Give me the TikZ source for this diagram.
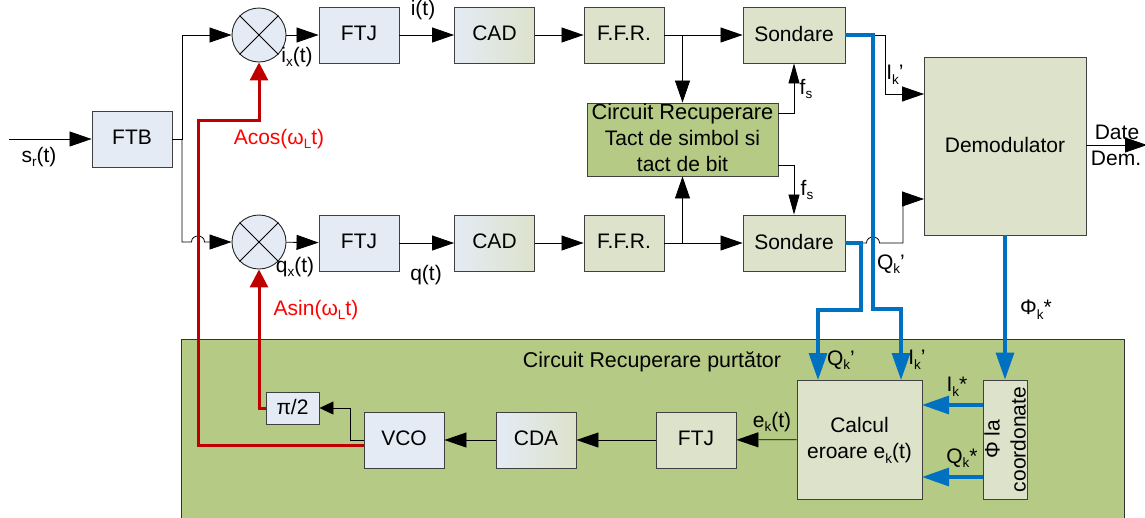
\documentclass[tikz,border=0pt]{standalone}
\usepackage{fontspec}
\setmainfont{Liberation Sans}
\usetikzlibrary{arrows.meta}
\definecolor{blkblue}{HTML}{E4EBF5}
\definecolor{blkgrey}{HTML}{DDE2CB}
\definecolor{blkgreen}{HTML}{B5CA85}
\definecolor{wireblue}{HTML}{0070C0}
\definecolor{wirered}{HTML}{C00000}
\newcommand{\lowtxt}[1]{\raisebox{-0.22em}{\fontsize{13.5}{14}\selectfont #1}}
\tikzset{
 blk/.style={draw=black!75,line width=0.9pt,inner sep=0pt,align=center,text depth=3pt,minimum width=80pt,minimum height=56pt},
 mixer/.style={draw=black!85,line width=0.9pt,fill=blkblue,circle,inner sep=0pt,minimum size=54pt},
 lbl/.style={inner sep=0pt,align=center},
 sig/.style={line width=0.8pt,-{Triangle[length=22pt,width=15pt]}},
 sigs/.style={line width=0.8pt,-{Triangle[length=20pt,width=11pt]}},
 bsig/.style={wireblue,line width=3.2pt,-{Triangle[length=27pt,width=18pt]}},
 rsig/.style={wirered,line width=3pt,-{Triangle[length=18pt,width=18pt]}},
}
\begin{document}
\begin{tikzpicture}[x=1pt,y=-1pt,font=\fontsize{21}{26}\selectfont]
 \clip (0,0) rectangle (1145,517);
 \fill[white] (0,0) rectangle (1145,517);
 \draw[line width=0.9pt,draw=black!80,fill=blkgreen] (181,339) rectangle (1124,530); %purtator
 \node[lbl] (tPurt) at (652,362) {\fontsize{21.4}{26}\selectfont Circuit Recuperare purtător};

 %calea de sus
 \node[blk,fill=blkblue] (FTB) at (132,139) {FTB};
 \node[mixer] (MxA) at (259,35) {};
 \node[blk,fill=blkblue] (FTJa) at (359,35) {FTJ};
 \node[blk,left color=blkblue,right color=blkgrey] (CADa) at (494.5,35) {CAD};
 \node[blk,fill=blkgrey] (FFRa) at (624,35) {F.F.R.};
 \node[blk,fill=blkgrey,minimum width=102pt] (SonA) at (794,35) {Sondare};
 %calea de jos
 \node[mixer] (MxB) at (259,242) {};
 \node[blk,fill=blkblue] (FTJb) at (359,243) {FTJ};
 \node[blk,left color=blkblue,right color=blkgrey] (CADb) at (494.5,243) {CAD};
 \node[blk,fill=blkgrey] (FFRb) at (624,243) {F.F.R.};
 \node[blk,fill=blkgrey,minimum width=102pt] (SonB) at (794,243) {Sondare};
 \node[blk,fill=blkgreen,minimum width=191pt,minimum height=73pt] (Tact) at (682.5,139.5)
   {\fontsize{21.8}{26}\selectfont Circuit Recuperare\\Tact de simbol si\\tact de bit};
 \node[blk,fill=blkgrey,minimum width=162pt,minimum height=178pt] (Dem) at (1005,146) {Demodulator};
 %bucla
 \node[blk,fill=blkgrey,minimum width=125pt,minimum height=119pt] (Calc) at (859.5,439.5)
   {Calcul\\eroare e\lowtxt{k}(t)};
 \node[blk,fill=blkgrey,minimum width=44pt,minimum height=119pt] (Phi) at (1005,439.5) {};
 \node[lbl,rotate=90] (tPhi) at (Phi) {Φ la\\coordonate};
 \node[blk,fill=blkgrey] (FTJc) at (696,440) {FTJ};
 \node[blk,left color=blkblue,right color=blkgrey] (CDA) at (536,440) {CDA};
 \node[blk,fill=blkblue] (VCO) at (404,440) {VCO};
 \node[blk,fill=blkblue,minimum width=53pt,minimum height=32pt] (Pi) at (292.5,408) {π/2};

 \foreach \m in {MxA,MxB}{
  \draw[line width=0.8pt] (\m.45)--(\m.225);
  \draw[line width=0.8pt] (\m.135)--(\m.-45);
 }

 \coordinate (in) at (9,139);
 \coordinate (sp) at (182,139);
 \coordinate (jmpA) at (191.5,242);
 \coordinate (jmpB) at (204.5,242);
 \coordinate (cU) at (778,113);
 \coordinate (cD) at (778,165);
 \coordinate (sI) at (873,35);
 \coordinate (sQ) at (861,243);
 \coordinate (jmpC) at (866.5,243);
 \coordinate (jmpD) at (879.5,243);
 \coordinate (dI) at (924,94);
 \coordinate (dQ) at (924,199);
 \coordinate (out) at (1147,145);

 \draw[sig] (in)--(FTB.west);
 \draw[sig] (FTB.east)--(sp) |- (MxA.west);
 \draw[sig] (sp)--(sp |- jmpA)--(jmpA) .. controls +(0,-8) and +(0,-8) .. (jmpB)--(MxB.west);
 \foreach \a/\b in {MxA/FTJa,FTJa/CADa,CADa/FFRa,FFRa/SonA,MxB/FTJb,FTJb/CADb,CADb/FFRb,FFRb/SonB,Calc/FTJc,FTJc/CDA,CDA/VCO}
  \draw[sig] (\a)--(\b);
 \draw[sig] (Tact.north |- FFRa.east)--(Tact.north);
 \draw[sig] (Tact.south |- FFRb.east)--(Tact.south);
 \draw[sigs] (cU) -| (SonA.south);
 \draw[sigs] (cD) -| (SonB.north);

 %spre demodulator
 \draw[sig] (sI)-|(885,94)--(dI);
 \draw[sig] (sQ)--(jmpC) .. controls +(0,-8) and +(0,-8) .. (jmpD)-|(903,199)--(dQ);
 \draw[sig] (Dem.east |- out)--(out);

 %albastru
 \draw[bsig] (SonA.east)--(sI)--(873,309)-|(901,380);
 \draw[bsig] (SonB.east)--(sQ)--(861,310)-|(818,380);
 \draw[bsig] (Dem.south)--(Phi.north);
 \draw[bsig] (983,405)--(922,405);
 \draw[bsig] (983,477)--(922,477);

 %rosu
 \draw[rsig] (364,445)-|(198,120)-|(MxA.south);
 \draw[rsig] (Pi.west)-|(MxB.south);
 \draw[sigs,-{Triangle[length=14pt,width=13pt]}] (VCO.west)-|(350,408)--(Pi.east);

 \node[lbl] (tSr) at (39,157) {s\lowtxt{r}(t)};
 \node[lbl] (tI) at (423,10.5) {i(t)};
 \node[lbl] (tIx) at (297,57) {i\lowtxt{x}(t)};
 \node[lbl] (tQx) at (295,267) {q\lowtxt{x}(t)};
 \node[lbl] (tQ) at (426,275) {q(t)};
 \node[lbl,text={rgb,255:red,255;green,0;blue,0}] (tCos) at (279,139) {Acos(ω\lowtxt{L}t)};
 \node[lbl,text={rgb,255:red,255;green,0;blue,0}] (tSin) at (316,310) {Asin(ω\lowtxt{L}t)};
 \node[lbl] (tFa) at (806,89) {f\lowtxt{s}};
 \node[lbl] (tFb) at (807,190) {f\lowtxt{s}};
 \node[lbl] (tIk) at (895,75) {I\lowtxt{k}’};
 \node[lbl] (tQk) at (891,264) {Q\lowtxt{k}’};
 \node[lbl] (tDate) at (1117,132) {Date};
 \node[lbl] (tDemd) at (1116,158) {Dem.};
 \node[lbl] (tPhik) at (1036,310) {Φ\lowtxt{k}*};
 \node[lbl] (tQc) at (841,360) {Q\lowtxt{k}’};
 \node[lbl] (tIc) at (917,360) {I\lowtxt{k}’};
 \node[lbl] (tIs) at (957,387) {I\lowtxt{k}*};
 \node[lbl] (tQs) at (962,458) {Q\lowtxt{k}*};
 \node[lbl] (tEk) at (772,422) {e\lowtxt{k}(t)};
\end{tikzpicture}
\end{document}
